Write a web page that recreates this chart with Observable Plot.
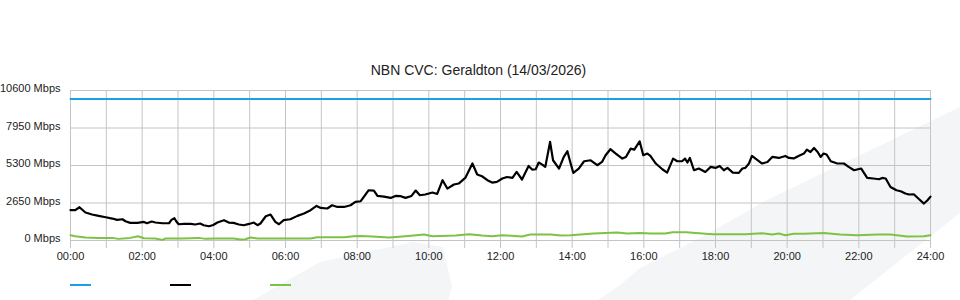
<!DOCTYPE html>
<html>
<head>
<meta charset="utf-8">
<script src="https://cdn.jsdelivr.net/npm/d3@7"></script>
<script src="https://cdn.jsdelivr.net/npm/@observablehq/plot@0.6"></script>
<style>
  body { margin: 0; background: #fff; font-family: "Liberation Sans", Arial, sans-serif; }
  #wrap { position: relative; width: 960px; height: 300px; overflow: hidden; }
  #bg { position: absolute; left: 0; top: 0; }
  #chart { position: absolute; left: 0; top: 0; }
  #title { position: absolute; left: 0; top: 62px; width: 957px; text-align: center; font-size: 14px; line-height: 16px; color: #222; }
  .sw { position: absolute; top: 284px; width: 21px; height: 2px; }
</style>
</head>
<body>
<div id="wrap">
  <svg id="bg" width="960" height="300">
    <polygon points="253,300 320,262 413,242 443,247 452,287 448,300" fill="#f4f5f7"/>
    <polygon points="598,300 620,285 640,268 700,238 767,200 960,107 960,213 850,300" fill="#f4f5f7"/>
  </svg>
  <div id="chart"></div>
  <div id="title"></div>
  <div id="legend"></div>
</div>
<script>
const titleText = "NBN CVC: Geraldton (14/03/2026)";
const seriesNames = ["Capacity", "Traffic In", "Traffic Out"];
const seriesColors = ["#1ba1e2", "#000000", "#7dc243"];
const yTicks = [0, 2650, 5300, 7950, 10600];
const xLabelTicks = [0, 120, 240, 360, 480, 600, 720, 840, 960, 1080, 1200, 1320, 1440];
const xGridTicks = d3.range(0, 1441, 60);

const capacityMinutes = [0, 1440];
const capacityValues = [10000, 10000];

const inMinutes = [0,8,15,25,36,47,59,70,78,87,92,100,112,123,128,136,142,154,165,169,174,177,181,190,201,209,217,223,232,239,246,257,265,273,282,290,299,307,313,318,327,335,343,349,357,368,380,391,402,412,419,430,438,447,458,469,477,486,499,508,514,525,536,544,553,561,571,578,585,594,606,614,623,631,642,650,661,673,681,689,698,706,714,723,731,740,747,756,767,773,779,784,790,795,803,808,818,826,832,837,842,851,860,871,882,890,896,904,913,924,930,938,944,953,959,966,971,980,991,999,1009,1016,1024,1029,1033,1037,1044,1052,1063,1072,1080,1087,1094,1100,1109,1119,1125,1130,1136,1141,1147,1158,1167,1175,1186,1197,1203,1211,1219,1228,1233,1239,1245,1251,1256,1261,1266,1273,1284,1295,1303,1312,1317,1324,1334,1344,1354,1359,1365,1373,1383,1390,1398,1404,1412,1421,1429,1435,1440];
const inValues = [2140,2140,2350,1980,1835,1740,1645,1550,1455,1500,1360,1245,1245,1315,1220,1340,1270,1220,1220,1455,1575,1360,1150,1170,1170,1130,1200,1080,1010,1100,1270,1435,1270,1245,1130,1080,1170,1270,1080,1200,1715,1835,1315,1150,1435,1500,1740,1905,2140,2445,2300,2260,2490,2370,2370,2490,2725,2775,3550,3530,3150,3105,3010,3150,3130,3010,3150,3530,3200,3250,3390,3290,4260,3670,3955,4025,4420,5440,4660,4540,4260,4095,4140,4380,4490,4420,4845,4310,5270,5015,5035,5510,5365,5200,6965,5670,5085,5905,6305,5510,4775,5085,5600,5670,5320,5550,6025,6450,6145,5790,5905,6495,6425,7010,6025,6145,5975,5440,5035,4800,5790,5600,5600,5790,5510,5835,4965,5085,4845,5200,5130,5270,4965,5130,4800,4775,5085,5130,5440,5975,5790,5440,5550,5905,5835,5975,5835,5800,5975,6145,6425,6255,6540,6255,5905,6145,6075,5600,5440,5440,5200,4965,5015,5085,4420,4380,4330,4420,4380,3785,3550,3480,3320,3250,3270,2915,2610,2845,3100];

const outMinutes = [0,8,25,47,70,80,100,113,123,142,154,159,187,215,226,243,273,285,293,301,313,346,402,413,458,474,486,505,533,561,592,606,645,667,689,706,723,756,770,804,821,837,876,915,932,954,971,996,1008,1031,1047,1075,1130,1158,1175,1186,1197,1211,1228,1261,1289,1317,1351,1373,1401,1429,1440];
const outValues = [375,300,210,185,185,115,185,300,160,140,45,140,140,185,115,140,140,70,90,210,140,140,140,235,235,300,325,280,210,300,420,300,350,445,350,300,375,280,420,420,350,375,495,565,495,535,495,495,585,585,535,445,445,515,420,495,375,470,470,535,420,375,420,420,280,300,375];

const zip = (xs, ys) => xs.map((m, i) => ({m, v: ys[i]}));
const capacity = zip(capacityMinutes, capacityValues);
const trafficIn = zip(inMinutes, inValues);
const trafficOut = zip(outMinutes, outValues);

const pad = n => String(n).padStart(2, "0");
const grid = "#c4c4c4";

const chart = Plot.plot({
  width: 960,
  height: 300,
  marginLeft: 70,
  marginRight: 30,
  marginTop: 90,
  marginBottom: 60,
  style: { background: "transparent", fontFamily: "'Liberation Sans', Arial, sans-serif", fontSize: "11px", color: "#222" },
  x: { domain: [0, 1440], label: null },
  y: { domain: [0, 10600], label: null },
  marks: [
    Plot.ruleY(yTicks, { stroke: grid, strokeOpacity: 1 }),
    Plot.ruleX(xGridTicks, { stroke: grid, strokeOpacity: 1, insetBottom: -8 }),
    Plot.axisY({ ticks: yTicks, tickFormat: d => `${d} Mbps`, tickSize: 0, tickPadding: 10, dy: -2, label: null }),
    Plot.axisX({ ticks: xLabelTicks, tickFormat: m => `${pad(m / 60)}:00`, tickSize: 0, tickPadding: 12, label: null }),
    Plot.line(capacity, { x: "m", y: "v", stroke: seriesColors[0], strokeWidth: 2 }),
    Plot.line(trafficOut, { x: "m", y: "v", stroke: seriesColors[2], strokeWidth: 2 }),
    Plot.line(trafficIn, { x: "m", y: "v", stroke: seriesColors[1], strokeWidth: 2.2 })
  ]
});
document.getElementById("chart").appendChild(chart);
document.getElementById("title").textContent = titleText;

const legend = document.getElementById("legend");
seriesNames.forEach((name, i) => {
  const s = document.createElement("div");
  s.className = "sw";
  s.title = name;
  s.style.left = (70 + i * 100) + "px";
  s.style.background = seriesColors[i];
  legend.appendChild(s);
});
</script>
</body>
</html>
